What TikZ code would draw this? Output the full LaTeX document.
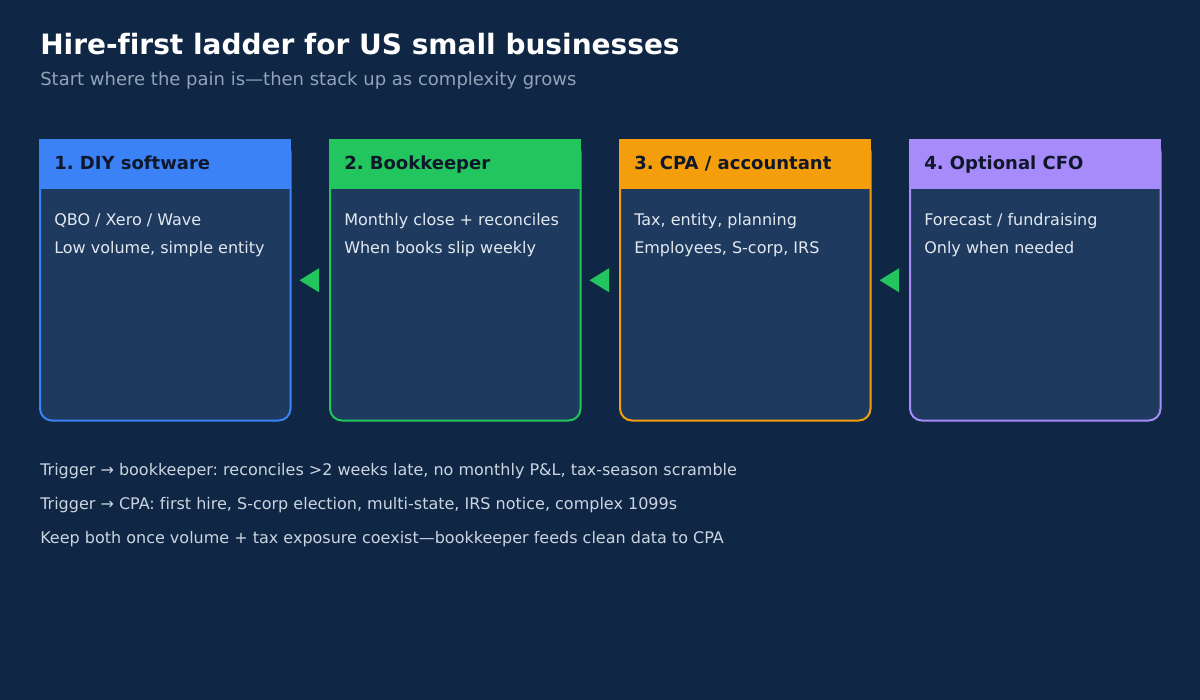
\documentclass[tikz,border=0pt]{standalone}
\usepackage{fontspec}
\setmainfont{DejaVu Sans}[Ligatures=NoCommon]
\usetikzlibrary{calc}
\frenchspacing
\definecolor{bgc}{HTML}{0F2644}
\definecolor{panel}{HTML}{1E3A5F}
\definecolor{cblue}{HTML}{3B82F6}
\definecolor{cgreen}{HTML}{22C55E}
\definecolor{corange}{HTML}{F59E0B}
\definecolor{cpurple}{HTML}{A78BFA}
\definecolor{headtxt}{HTML}{0F172A}
\definecolor{bodytxt}{HTML}{E2E8F0}
\definecolor{subtxt}{HTML}{94A3B8}
\definecolor{foottxt}{HTML}{CBD5E1}
\tikzset{
  titletxt/.style={anchor=base west, inner sep=0pt, text=white, font=\fontsize{21pt}{25pt}\selectfont\bfseries},
  subtitletxt/.style={anchor=base west, inner sep=0pt, text=subtxt, font=\fontsize{13.5pt}{16pt}\selectfont},
  headlabel/.style={anchor=base west, inner sep=0pt, text=headtxt, font=\fontsize{13.5pt}{16pt}\selectfont\bfseries},
  bodylabel/.style={anchor=base west, inner sep=0pt, text=bodytxt, font=\fontsize{12pt}{14pt}\selectfont},
  footlabel/.style={anchor=base west, inner sep=0pt, text=foottxt, font=\fontsize{12pt}{14pt}\selectfont},
  boxframe/.style={line width=1.5pt, fill=panel, rounded corners=9pt},
  ladderarrow/.style={fill=cgreen, draw=none},
}
\newcommand\ladderbox[6]{%
  % #1 name, #2 left x, #3 colour, #4 title, #5 line1, #6 line2
  \node[minimum width=250*0.75pt, minimum height=280*0.75pt, inner sep=0pt, anchor=north west] (#1) at (#2,140) {};
  \draw[boxframe, draw=#3] (#1.north west) rectangle (#1.south east);
  \filldraw[#3, line width=1pt] (#1.north west) rectangle ($(#1.north east)+(0,48)$);
  \node[headlabel] (#1h) at ($(#1.north west)+(14,29)$) {#4};
  \node[bodylabel] (#1a) at ($(#1.north west)+(14,85)$) {#5};
  \node[bodylabel] (#1b) at ($(#1.north west)+(14,113)$) {#6};
}
\begin{document}
\begin{tikzpicture}[x=0.75pt, y=-0.75pt]
\fill[bgc] (0,0) rectangle (1200,700);
\useasboundingbox (0,0) rectangle (1200,700);
\node[titletxt] (title) at (40,54) {Hire-first ladder for US small businesses};
\node[subtitletxt] (subtitle) at (40,85) {Start where the pain is—then stack up as complexity grows};

\ladderbox{b1}{40}{cblue}{1. DIY software}{QBO / Xero / Wave}{Low volume, simple entity}
\ladderbox{b2}{330}{cgreen}{2. Bookkeeper}{Monthly close + reconciles}{When books slip weekly}
\ladderbox{b3}{620}{corange}{3. CPA / accountant}{Tax, entity, planning}{Employees, S-corp, IRS}
\ladderbox{b4}{910}{cpurple}{4. Optional CFO}{Forecast / fundraising}{Only when needed}

\foreach \s/\t in {b2/b1, b3/b2, b4/b3}{
  \coordinate (tip) at ($(\t.east)+(9,0)$);
  \coordinate (base) at ($(\s.west)+(-11,0)$);
  \fill[ladderarrow] (tip) -- ($(base)+(0,-12)$) -- ($(base)+(0,12)$) -- cycle;
}

\node[footlabel] (f1) at (40,475) {Trigger → bookkeeper: reconciles >2 weeks late, no monthly P\&L, tax-season scramble};
\node[footlabel] (f2) at (40,509) {Trigger → CPA: first hire, S-corp election, multi-state, IRS notice, complex 1099s};
\node[footlabel] (f3) at (40,543) {Keep both once volume + tax exposure coexist—bookkeeper feeds clean data to CPA};
\end{tikzpicture}
\end{document}
